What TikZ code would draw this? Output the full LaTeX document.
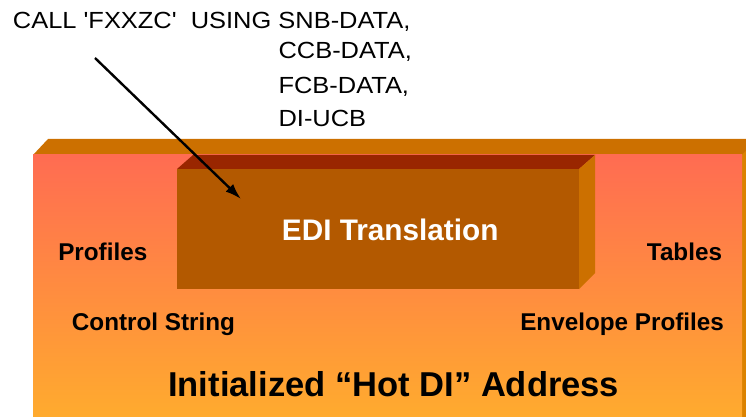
\documentclass[tikz,border=0pt]{standalone}
\usepackage{fontspec}
\setmainfont{Liberation Sans}
\usetikzlibrary{arrows.meta}

\definecolor{slabTop}{HTML}{CC7000}
\definecolor{slabSide}{HTML}{DB8200}
\definecolor{slabFaceHi}{HTML}{FF6C52}
\definecolor{slabFaceLo}{HTML}{FFAB2E}
\definecolor{boxFront}{HTML}{B35900}
\definecolor{boxTop}{HTML}{992600}
\definecolor{boxSide}{HTML}{CC7000}

\tikzset{
  lbl/.style={inner sep=0pt, anchor=base west},
  calltext/.style={lbl, font=\fontsize{17.5}{20}\selectfont},
  facetext/.style={lbl, font=\fontsize{18.2}{21}\selectfont\bfseries},
  callarrow/.style={draw=black, line width=1.8pt, -{Latex[length=12pt,width=8pt]}}
}

\newcommand{\wide}[1]{\scalebox{1.09}[1]{#1}}

\begin{document}
\begin{tikzpicture}[x=0.75pt, y=-0.75pt]
  \useasboundingbox (0,0) rectangle (746,417);
  \clip (0,0) rectangle (746,417);

  % slab: top face, right side, shaded front face
  \fill[slabTop] (33,155) -- (48,139) -- (770,139) -- (755,155) -- cycle;
  \fill[slabSide] (742,155) -- (757,139) -- (757,417) -- (742,417) -- cycle;
  \shade[top color=slabFaceHi, bottom color=slabFaceLo] (33,155) rectangle (742,417);

  % translation block
  \fill[boxTop] (177,169) -- (193,155) -- (595,155) -- (579,169) -- cycle;
  \fill[boxSide] (579,169) -- (595,155) -- (595,273) -- (579,289) -- cycle;
  \fill[boxFront] (177,169) rectangle (579,289);
  \node[lbl, text=white, font=\fontsize{22.3}{26}\selectfont\bfseries]
    (edi) at (281.7,240) {EDI Translation};

  % slab labels
  \node[facetext] (profiles) at (58,260) {Profiles};
  \node[facetext] (tables) at (646.7,260) {Tables};
  \node[facetext] (ctrl) at (71.7,330) {Control String};
  \node[facetext] (env) at (520,330) {Envelope Profiles};
  \node[lbl, font=\fontsize{25.9}{30}\selectfont\bfseries]
    (addr) at (168,396) {Initialized “Hot DI” Address};

  % call statement
  \node[calltext] (call) at (12.7,29)
    {\wide{CALL \textquotesingle FXXZC\textquotesingle\ \ USING SNB-DATA,}};
  \node[calltext] (ccb) at (278.3,58.3) {\wide{CCB-DATA,}};
  \node[calltext] (fcb) at (278.3,93.3) {\wide{FCB-DATA,}};
  \node[calltext] (ucb) at (278.3,126.7) {\wide{DI-UCB}};

  % arrow from the call into the block
  \coordinate (callfrom) at (95,58);
  \coordinate (callto) at (241,199);
  \draw[callarrow] (callfrom) -- (callto);
\end{tikzpicture}
\end{document}
